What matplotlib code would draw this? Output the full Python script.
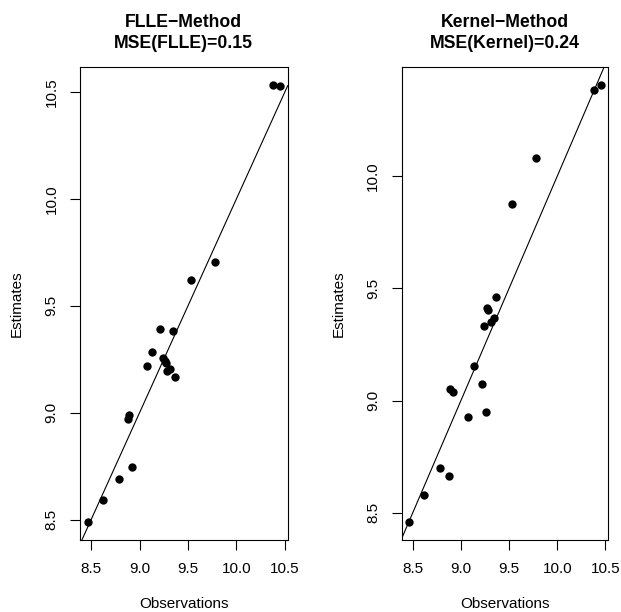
import matplotlib
matplotlib.use("Agg")
import matplotlib.pyplot as plt
import numpy as np

plt.rcParams['font.family'] = ['Liberation Sans', 'DejaVu Sans']

# Observed values (shared by both panels)
observations = [8.465, 8.622, 8.784, 8.877, 8.887, 8.922, 9.078, 9.132, 9.214, 9.238,
                9.262, 9.274, 9.280, 9.316, 9.345, 9.362, 9.532, 9.775, 10.378, 10.450]

# Estimates from the FLLE method
flle_estimates = [8.487, 8.591, 8.690, 8.972, 8.988, 8.747, 9.219, 9.286, 9.391, 9.255,
                  9.240, 9.234, 9.197, 9.203, 9.381, 9.169, 9.622, 9.703, 10.535, 10.530]

# Estimates from the kernel method
kernel_estimates = [8.457, 8.579, 8.699, 8.666, 9.052, 9.040, 8.925, 9.154, 9.073, 9.333,
                    8.951, 9.412, 9.402, 9.352, 9.367, 9.461, 9.877, 10.082, 10.384, 10.408]

titles = ["FLLE\u2212Method\nMSE(FLLE)=0.15", "Kernel\u2212Method\nMSE(Kernel)=0.24"]
xticks = [8.5, 9.0, 9.5, 10.0, 10.5]
flle_yticks = [8.5, 9.0, 9.5, 10.0, 10.5]
kernel_yticks = [8.5, 9.0, 9.5, 10.0]

W, H = 621, 612
fig = plt.figure(figsize=(W / 100, H / 100), dpi=100)


def r_limits(vals):
    lo, hi = min(vals), max(vals)
    r = hi - lo
    return lo - 0.04 * r, hi + 0.04 * r


def panel(rect_px, est, title, yticks):
    x0, y0, x1, y1 = rect_px
    ax = fig.add_axes([x0 / W, 1 - y1 / H, (x1 - x0) / W, (y1 - y0) / H])
    ax.scatter(observations, est, s=36, color='black', zorder=3, linewidths=0)
    ax.set_xlim(*r_limits(observations))
    ax.set_ylim(*r_limits(est))
    ax.axline((0, 0), slope=1, color='black', lw=0.8)
    ax.set_xticks(xticks)
    ax.set_xticklabels([f"{t:.1f}" for t in xticks])
    ax.set_yticks(yticks)
    ax.set_yticklabels([f"{t:.1f}" for t in yticks], rotation=90, va='center')
    ax.tick_params(direction='out', length=7, width=0.8, labelsize=11, pad=8.5)
    for sp in ax.spines.values():
        sp.set_linewidth(0.8)
    ax.set_title(title, fontsize=12.7, fontweight='bold', pad=13.5, linespacing=1.3)
    ax.set_xlabel("Observations", fontsize=11)
    ax.set_ylabel("Estimates", fontsize=11)
    w = x1 - x0
    h = y1 - y0
    ax.xaxis.set_label_coords(0.5, -57 / h)
    ax.yaxis.set_label_coords(-56 / w, 0.5)
    return ax


panel((80, 67, 287.7, 540), flle_estimates, titles[0], flle_yticks)
panel((401.7, 67, 608.3, 540), kernel_estimates, titles[1], kernel_yticks)

fig.savefig("out.png", dpi=100, facecolor='white')
